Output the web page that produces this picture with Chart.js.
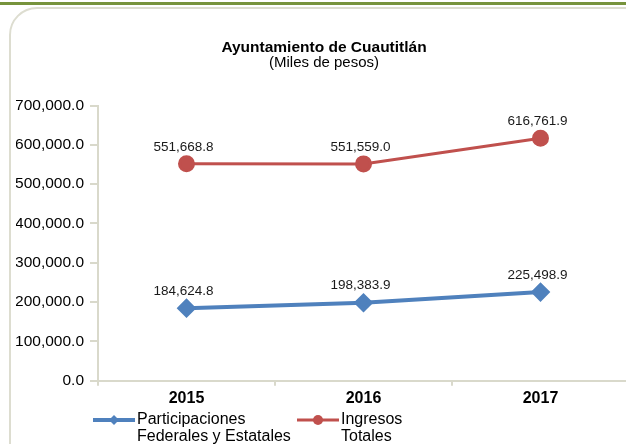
<!DOCTYPE html>
<html>
<head>
<meta charset="utf-8">
<script src="https://cdn.jsdelivr.net/npm/chart.js@4.4.0/dist/chart.umd.min.js"></script>
<style>
  html, body { margin: 0; padding: 0; background: #fff; overflow: hidden; width: 626px; height: 444px; }
  #linea { position: absolute; left: 0; top: 2px; width: 626px; height: 3px; background: #77933C; }
  #marco { position: absolute; left: 9px; top: 7px; width: 640px; height: 470px; border: 2px solid #DDDDD0; border-radius: 28px; }
  #grafica { position: absolute; left: 0; top: 0; }
</style>
</head>
<body>
<div id="linea"></div>
<div id="marco"></div>
<canvas id="grafica" width="640" height="444"></canvas>
<script>
// datos de la grafica
var anios = ["2015", "2016", "2017"];
var participaciones = [184624.8, 198383.9, 225498.9];
var ingresosTotales = [551668.8, 551559.0, 616761.9];
var nombresSeries = [["Participaciones", "Federales y Estatales"], ["Ingresos", "Totales"]];
var titulo = "Ayuntamiento de Cuautitlán";
var subtitulo = "(Miles de pesos)";

var fuente = "'Liberation Sans', Arial, sans-serif";
var azul = "#4F81BD";
var rojo = "#C0504D";
var colorEje = "#D9D9CB";

function formato(v) {
    return v.toLocaleString("en-US", { minimumFractionDigits: 1, maximumFractionDigits: 1 });
}

// etiquetas de valores sobre cada punto
var etiquetasValores = {
    id: "etiquetasValores",
    afterDatasetsDraw: function (chart) {
        var ctx = chart.ctx;
        ctx.save();
        ctx.font = "13.5px " + fuente;
        ctx.fillStyle = "#1a1a1a";
        ctx.textAlign = "center";
        ctx.textBaseline = "middle";
        chart.data.datasets.forEach(function (ds, i) {
            var meta = chart.getDatasetMeta(i);
            meta.data.forEach(function (pt, j) {
                ctx.fillText(formato(ds.data[j]), pt.x - 3, pt.y - 17);
            });
        });
        ctx.restore();
    }
};

// leyenda abajo con linea + marcador y texto en dos renglones
var leyenda = {
    id: "leyenda",
    afterDraw: function (chart) {
        var ctx = chart.ctx;
        var xs = [93, 297];
        var y = 420;
        ctx.save();
        chart.data.datasets.forEach(function (ds, i) {
            var x = xs[i];
            ctx.strokeStyle = ds.borderColor;
            ctx.lineWidth = ds.borderWidth;
            ctx.beginPath();
            ctx.moveTo(x, y);
            ctx.lineTo(x + 42, y);
            ctx.stroke();
            ctx.fillStyle = ds.borderColor;
            ctx.beginPath();
            var cx = x + 21;
            if (ds.pointStyle === "rectRot") {
                ctx.moveTo(cx - 5, y);
                ctx.lineTo(cx, y - 5);
                ctx.lineTo(cx + 5, y);
                ctx.lineTo(cx, y + 5);
                ctx.closePath();
            } else {
                ctx.arc(cx, y, 5, 0, Math.PI * 2);
            }
            ctx.fill();
            ctx.fillStyle = "#000";
            ctx.font = "16px " + fuente;
            ctx.textAlign = "left";
            ctx.textBaseline = "middle";
            nombresSeries[i].forEach(function (t, k) {
                ctx.fillText(t, x + 44, y + k * 17);
            });
        });
        ctx.restore();
    }
};

Chart.defaults.color = "#000";
Chart.defaults.font.family = fuente;

var canvas = document.getElementById("grafica");
var grafica = new Chart(canvas.getContext("2d"), {
    type: "line",
    data: {
        labels: anios,
        datasets: [{
            label: nombresSeries[0].join(" "),
            data: participaciones,
            borderColor: azul,
            backgroundColor: azul,
            borderWidth: 4,
            pointStyle: "rectRot",
            pointRadius: 7,
            pointHoverRadius: 7,
            tension: 0
        }, {
            label: nombresSeries[1].join(" "),
            data: ingresosTotales,
            borderColor: rojo,
            backgroundColor: rojo,
            borderWidth: 3,
            pointStyle: "circle",
            pointRadius: 7,
            pointHoverRadius: 7,
            tension: 0
        }]
    },
    options: {
        responsive: false,
        animation: false,
        events: [],
        layout: { padding: { left: 16, right: 8, top: 0, bottom: 33 } },
        plugins: {
            legend: { display: false },
            tooltip: { enabled: false },
            title: {
                display: true,
                text: titulo,
                font: { size: 15.5, weight: "bold", lineHeight: 1 },
                padding: { top: 39.5, bottom: 0 }
            },
            subtitle: {
                display: true,
                text: subtitulo,
                font: { size: 15, lineHeight: 1 },
                padding: { top: 0, bottom: 35.5 }
            }
        },
        scales: {
            x: {
                offset: true,
                grid: { offset: true, drawOnChartArea: false, tickLength: 5, color: colorEje, lineWidth: 2 },
                border: { display: true, color: colorEje, width: 2 },
                ticks: { padding: 3, font: { size: 16, weight: "bold", lineHeight: 1.2 } }
            },
            y: {
                min: 0,
                max: 700000,
                afterFit: function (s) { s.width = 82; },
                grid: { drawOnChartArea: false, tickLength: 8, color: colorEje, lineWidth: 2 },
                border: { display: true, color: colorEje, width: 2 },
                ticks: {
                    stepSize: 100000,
                    padding: 6,
                    font: { size: 15.5 },
                    callback: function (v) { return formato(v); }
                }
            }
        }
    },
    plugins: [etiquetasValores, leyenda]
});
</script>
</body>
</html>
